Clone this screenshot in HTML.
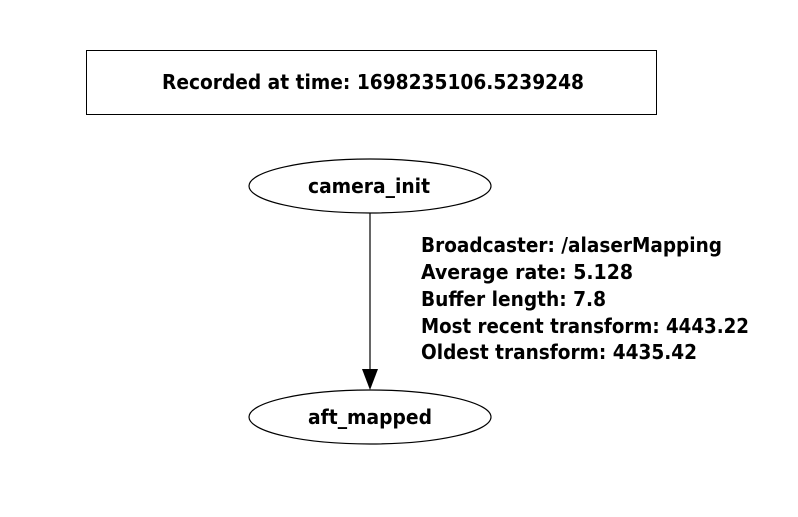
<!DOCTYPE html>
<html><head><meta charset="utf-8"><style>
html,body{margin:0;padding:0;background:#fff;}
svg text{font-family:"DejaVu Sans","Liberation Sans",sans-serif;font-weight:bold;fill:#000;}
</style></head><body>
<svg width="798" height="512" viewBox="0 0 798 512" xmlns="http://www.w3.org/2000/svg">
<rect x="86.5" y="50.5" width="570" height="64" fill="none" stroke="#000" stroke-width="1"/>
<text x="162" y="89" font-size="20" textLength="422" lengthAdjust="spacingAndGlyphs">Recorded at time: 1698235106.5239248</text>
<ellipse cx="370" cy="186" rx="121" ry="27" fill="none" stroke="#000" stroke-width="1.2"/>
<text x="308" y="193" font-size="20" textLength="122" lengthAdjust="spacingAndGlyphs">camera_init</text>
<line x1="370" y1="213" x2="370" y2="370" stroke="#000" stroke-width="1.2"/>
<polygon points="362,369 378,369 370,390" fill="#000"/>
<ellipse cx="370" cy="417" rx="121" ry="27" fill="none" stroke="#000" stroke-width="1.2"/>
<text x="308" y="424" font-size="20" textLength="124" lengthAdjust="spacingAndGlyphs">aft_mapped</text>
<text x="421" y="252" font-size="20" textLength="301" lengthAdjust="spacingAndGlyphs">Broadcaster: /alaserMapping</text>
<text x="421" y="279" font-size="20" textLength="212" lengthAdjust="spacingAndGlyphs">Average rate: 5.128</text>
<text x="421" y="306" font-size="20" textLength="185" lengthAdjust="spacingAndGlyphs">Buffer length: 7.8</text>
<text x="421" y="333" font-size="20" textLength="328" lengthAdjust="spacingAndGlyphs">Most recent transform: 4443.22</text>
<text x="421" y="359" font-size="20" textLength="276" lengthAdjust="spacingAndGlyphs">Oldest transform: 4435.42</text>
</svg>
</body></html>
